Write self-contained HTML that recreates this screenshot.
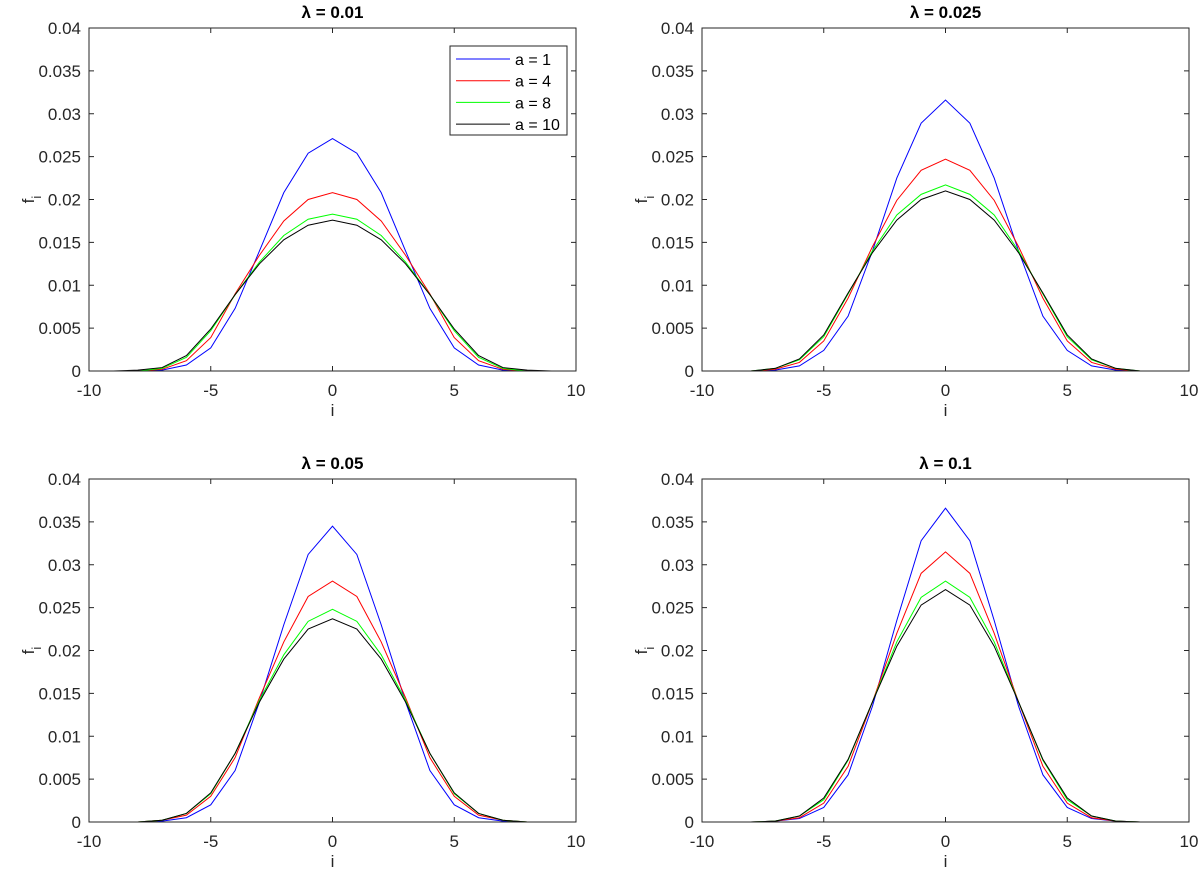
<!DOCTYPE html>
<html><head><meta charset="utf-8"><style>
body{margin:0;background:#fff;}
svg{display:block;font-family:"Liberation Sans",sans-serif;}
</style></head><body>
<svg id="fig" width="1200" height="877" viewBox="0 0 1200 877"></svg>
<script>
const xs=[-9,-8,-7,-6,-5,-4,-3,-2,-1,0,1,2,3,4,5,6,7,8,9];
const titles=["0.01","0.025","0.05","0.1"];
const seriesNames=["a = 1","a = 4","a = 8","a = 10"];
const colors=["#0000ff","#ff0000","#00ff00","#000000"];
const xTicks=[-10,-5,0,5,10];
const yTicks=[0,0.005,0.01,0.015,0.02,0.025,0.03,0.035,0.04];
const yTickLabels=["0","0.005","0.01","0.015","0.02","0.025","0.03","0.035","0.04"];
// half-profiles for i=0..9 (symmetric)
const p1=[[.0271,.0254,.0208,.0140,.0073,.0027,.0007,.0001,0,0],[.0208,.0200,.0175,.0135,.0090,.0039,.0012,.0002,0,0],[.0183,.0177,.0158,.0127,.0089,.0047,.0016,.0003,0,0],[.0176,.0170,.0153,.0125,.0089,.0049,.0018,.0004,.0001,0]];
const p2=[[.0316,.0289,.0225,.0140,.0064,.0024,.0006,.0001,0,0],[.0247,.0234,.0199,.0145,.0085,.0035,.0010,.0002,0,0],[.0217,.0206,.0182,.0140,.0090,.0040,.0013,.0003,0,0],[.0210,.0200,.0176,.0138,.0091,.0042,.0014,.0003,0,0]];
const p3=[[.0345,.0312,.0230,.0140,.0060,.0020,.0005,.0001,0,0],[.0281,.0263,.0210,.0145,.0075,.0030,.0008,.0002,0,0],[.0248,.0234,.0195,.0142,.0080,.0033,.0010,.0002,0,0],[.0237,.0225,.0190,.0140,.0080,.0034,.0010,.0002,0,0]];
const p4=[[.0366,.0328,.0235,.0135,.0055,.0017,.0004,.0001,0,0],[.0315,.0290,.0220,.0140,.0065,.0022,.0005,.0001,0,0],[.0281,.0262,.0210,.0140,.0072,.0026,.0007,.0001,0,0],[.0271,.0253,.0205,.0140,.0073,.0028,.0007,.0001,0,0]];
const profiles=[p1,p2,p3,p4];
const panels=[[89,28],[702,28],[89,479],[702,479]];
const W=487,H=343;
const NS="http://www.w3.org/2000/svg";
const svg=document.getElementById('fig');
function mk(tag,attrs,parent,text){const e=document.createElementNS(NS,tag);for(const k in attrs)e.setAttribute(k,attrs[k]);if(text!==undefined)e.textContent=text;parent.appendChild(e);return e;}
profiles.forEach((prof,pi)=>{
  const [L,T]=panels[pi];
  const sx=v=>L+(v+10)/20*W, sy=v=>T+H-v/0.04*H;
  const g=mk('g',{},svg);
  
  
  const t=mk('text',{x:L+W/2,y:T-10,'text-anchor':'middle','font-size':17,'font-weight':'bold',fill:'#000'},g,'λ = '+titles[pi]);
  
  
  prof.forEach((half,si)=>{
    const pts=xs.map(x=>sx(x)+','+sy(half[Math.abs(x)]).toFixed(2)).join(' ');
    const pl=mk('polyline',{points:pts,fill:'none',stroke:colors[si],'stroke-width':1},g);
    
    
  });
  const box=mk('rect',{x:L,y:T,width:W,height:H,fill:'none',stroke:'#262626','stroke-width':1},g);
  
  
  xTicks.forEach(v=>{const x=sx(v);
    mk('line',{x1:x,x2:x,y1:T+H,y2:T+H-5,stroke:'#262626'},g);
    mk('line',{x1:x,x2:x,y1:T,y2:T+5,stroke:'#262626'},g);
    const tl=mk('text',{x:x,y:T+H+25,'text-anchor':'middle','font-size':17,fill:'#262626'},g,String(v));
    
    
  });
  yTicks.forEach((v,i)=>{const y=sy(v);
    mk('line',{x1:L,x2:L+5,y1:y,y2:y,stroke:'#262626'},g);
    mk('line',{x1:L+W,x2:L+W-5,y1:y,y2:y,stroke:'#262626'},g);
    const tl=mk('text',{x:L-8,y:y+6,'text-anchor':'end','font-size':17,fill:'#262626'},g,yTickLabels[i]);
    
    
  });
  const xl=mk('text',{x:L+W/2,y:T+H+45,'text-anchor':'middle','font-size':17,fill:'#262626'},g,'i');
  
  
  const yl=mk('text',{transform:`translate(${L-55},${T+H/2}) rotate(-90)`,'text-anchor':'middle','font-size':17,fill:'#262626'},g);
  
  
  mk('tspan',{},yl,'f');
  mk('tspan',{'font-size':13,dy:7},yl,'i');
  if(pi===0){
    const lg=mk('g',{},g);
    
    
    mk('rect',{x:450,y:46,width:117,height:89,fill:'#fff',stroke:'#262626'},lg);
    seriesNames.forEach((n,si)=>{const y=59+si*21.7;
      const e=mk('g',{},lg);
      
      
      mk('line',{x1:456,x2:510,y1:y,y2:y,stroke:colors[si]},e);
      mk('text',{x:515,y:y+6,'font-size':16,fill:'#000'},e,n);
    });
  }
});
</script>
</body></html>
